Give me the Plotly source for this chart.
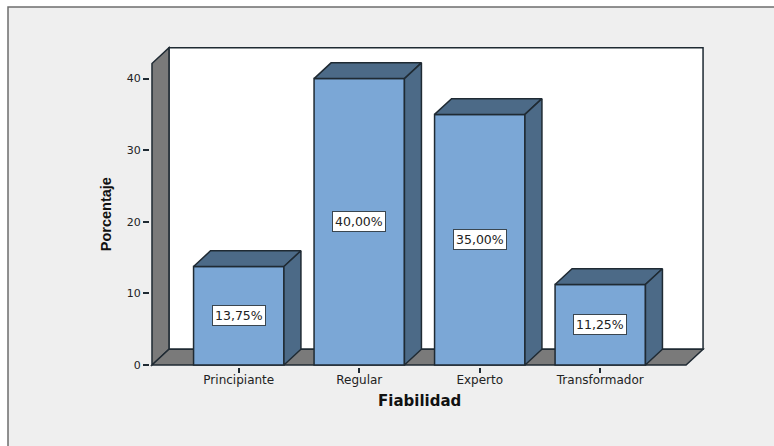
import plotly.graph_objects as go

# Survey results by level
categories = ["Principiante", "Regular", "Experto", "Transformador"]
values = [13.75, 40.00, 35.00, 11.25]
y_ticks = [0, 10, 20, 30, 40]

FIG_W, FIG_H = 774, 446
M_L, M_R, M_T, M_B = 150, 68, 45, 79

FRONT = "#7ba7d6"
SIDE = "#4c6a87"
WALL = "#7a7a7a"
EDGE = "#1f2a33"
PANEL = "#efefef"
TICK_FONT = "DejaVu Sans"

# Axis ranges leave a small gutter so the box outline is not clipped
x_range = [-0.7365, 3.8775]
y_range = [-0.28, 44.69]
box_left, box_right, box_top = -0.72, 3.853, 44.3
dx, dy = 0.141, 2.2
half = 0.375
front_right = box_right - dx
positions = list(range(len(categories)))

plot_w = FIG_W - M_L - M_R
plot_h = FIG_H - M_T - M_B

fig = go.Figure()

# Back wall, left wall and floor of the chart box
def box_shape(xs, ys, fill):
    path = "M " + " L ".join(f"{x},{y}" for x, y in zip(xs, ys)) + " Z"
    return dict(type="path", path=path, xref="x", yref="y", fillcolor=fill,
                line=dict(color=EDGE, width=1.5), layer="below")

shapes = [
    # figure panel with a grey frame on its top and left edges
    dict(type="rect", xref="paper", yref="paper",
         x0=(8 - M_L) / plot_w, x1=1.3,
         y0=-0.4, y1=1 + (M_T - 7) / plot_h,
         fillcolor=PANEL, line=dict(color="#6e6e6e", width=1.5), layer="below"),
    box_shape([box_left + dx, box_right, box_right, box_left + dx],
              [dy, dy, box_top, box_top], "white"),
    box_shape([box_left, box_left + dx, box_left + dx, box_left],
              [0, dy, box_top, box_top - dy], WALL),
    box_shape([box_left, box_left + dx, box_right, front_right],
              [0, dy, dy, 0], WALL),
]

# Front faces of the bars
fig.add_trace(go.Bar(
    x=positions, y=values, width=2 * half,
    marker=dict(color=FRONT, line=dict(color=EDGE, width=1.5)),
    hoverinfo="skip", showlegend=False,
))

# Top and side faces follow each bar's value
for p, v in zip(positions, values):
    fig.add_trace(go.Scatter(
        x=[p - half, p - half + dx, p + half + dx, p + half, p - half],
        y=[v, v + dy, v + dy, v, v],
        mode="lines", fill="toself", fillcolor=SIDE,
        line=dict(color=EDGE, width=1.5), hoverinfo="skip", showlegend=False,
    ))
    fig.add_trace(go.Scatter(
        x=[p + half, p + half + dx, p + half + dx, p + half, p + half],
        y=[0, dy, v + dy, v, 0],
        mode="lines", fill="toself", fillcolor=SIDE,
        line=dict(color=EDGE, width=1.5), hoverinfo="skip", showlegend=False,
    ))

# Boxed percentage labels centred on the front faces
annotations = [
    dict(x=p, y=v / 2, xref="x", yref="y",
         text=f"{v:.2f}".replace(".", ",") + "%", showarrow=False,
         font=dict(family=TICK_FONT, size=12.5, color="#222222"),
         bgcolor="white", bordercolor="#3a4650", borderwidth=1, borderpad=2)
    for p, v in zip(positions, values)
]

# Axis titles are centred on the front plane of the box, not the full plot area
annotations.append(dict(
    x=(box_left + front_right) / 2, xref="x",
    y=1 - (401 - M_T) / plot_h, yref="paper",
    xanchor="center", yanchor="middle", showarrow=False,
    text="<b>Fiabilidad</b>",
    font=dict(family=TICK_FONT, size=15, color="#111111"),
))
annotations.append(dict(
    x=(106 - M_L) / plot_w, xref="paper",
    y=(box_top - dy) / 2, yref="y",
    xanchor="center", yanchor="middle", showarrow=False, textangle=-90,
    text="<b>Porcentaje</b>",
    font=dict(family="Liberation Sans", size=14.5, color="#111111"),
))

fig.update_layout(
    width=FIG_W, height=FIG_H, autosize=False,
    margin=dict(l=M_L, r=M_R, t=M_T, b=M_B, pad=0),
    paper_bgcolor="white", plot_bgcolor="rgba(0,0,0,0)",
    shapes=shapes, annotations=annotations, showlegend=False,
    xaxis=dict(
        range=x_range, tickmode="array", tickvals=positions, ticktext=categories,
        ticks="outside", ticklen=5, tickwidth=1.5, tickcolor=EDGE,
        ticklabelstandoff=-3,
        tickfont=dict(family=TICK_FONT, size=12, color="#222222"),
        showgrid=False, zeroline=False, showline=False,
    ),
    yaxis=dict(
        range=y_range, tickmode="array", tickvals=y_ticks,
        ticks="outside", ticklen=6, tickwidth=1.5, tickcolor=EDGE,
        tickfont=dict(family=TICK_FONT, size=11, color="#222222"),
        showgrid=False, zeroline=False, showline=False,
    ),
)

fig.write_html("out.html")
